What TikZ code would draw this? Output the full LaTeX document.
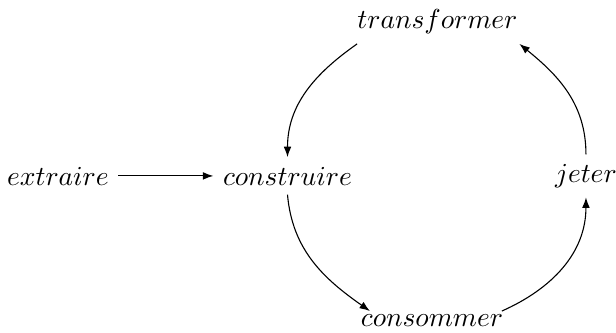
\documentclass[tikz,border=0pt]{standalone}
\usepackage{tikz}
\usetikzlibrary{arrows.meta}

\begin{document}
\begin{tikzpicture}[>={Latex[length=3.8pt,width=2.8pt]},
 every node/.style={font=\normalsize,align=center}]
    \useasboundingbox (0,0) rectangle (7.874,4.256);
    \node (extraire)    at (0.741,2.007) {$extraire$};
    \node (construire)  at (3.675,2.007) {$construire$};
    \node (transformer) at (5.592,3.975) {$transformer$};
    \node (jeter)       at (7.490,2.007) {$jeter$};
    \node (consommer)   at (5.522,0.160) {$consommer$};
    \draw[->] (extraire)--(construire);
    \draw[->] ([xshift=0.12cm]transformer.south west)
      to[out=215,in=90] (construire.north);
    \draw[->] (construire.south) to[out=-85,in=145]
      ([shift={(0.24,-0.08)}]consommer.north west);
    \draw[->] ([shift={(-0.14,-0.08)}]consommer.north east)
      to[out=24,in=-90] (jeter.south);
    \draw[->] (jeter.north) to[out=90,in=-39]
      ([xshift=-0.1cm]transformer.south east);
\end{tikzpicture}
\end{document}
